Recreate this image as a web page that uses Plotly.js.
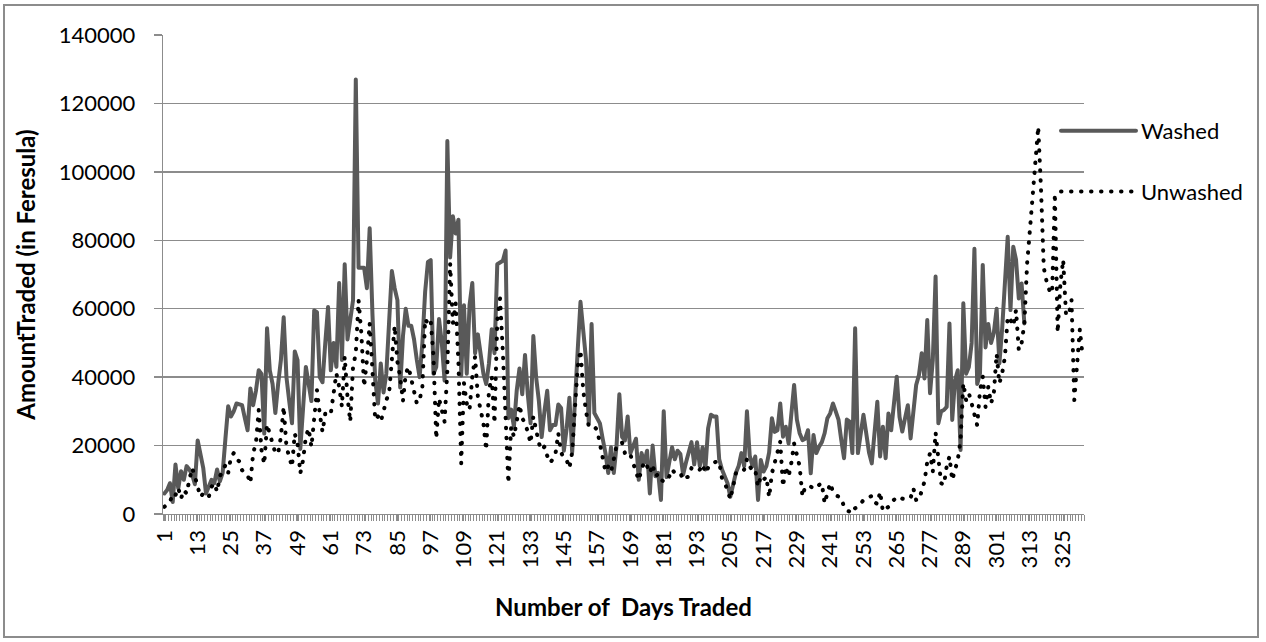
<!DOCTYPE html>
<html>
<head>
<meta charset="utf-8">
<script src="https://cdn.plot.ly/plotly-3.0.1.min.js"></script>
<style>
html,body{margin:0;padding:0;background:#fff;}
#chart{width:1266px;height:642px;}
.js-line{stroke-linecap:round !important;stroke-linejoin:round !important;}
</style>
</head>
<body>
<div id="chart"></div>
<script>
const seriesNames = ['Washed', 'Unwashed'];

const washed = [
 6000, 7000, 9000, 3500, 14500, 7500, 12500, 10000, 14000, 13000,
 11500, 8700, 21500, 17000, 13500, 6000, 8000, 10000, 9000, 13000,
 9500, 12000, 22000, 31500, 28500, 30000, 32300, 32000, 31800, 28000,
 24500, 36700, 31800, 36000, 42000, 40900, 23500, 54300, 42000, 38000,
 29500, 38000, 45000, 57500, 40000, 33000, 26500, 47500, 45000, 19000,
 33000, 43000, 38000, 33000, 59500, 59000, 40000, 38500, 50000, 60500,
 42000, 50000, 43000, 67500, 45000, 73000, 51000, 56000, 62500, 127000,
 72000, 72000, 72000, 66000, 83500, 58500, 39000, 32300, 44000, 35500,
 41000, 56000, 71000, 66000, 62500, 37000, 52000, 60000, 55000, 55000,
 51000, 45000, 40000, 50000, 65000, 73700, 74200, 41000, 43000, 57000,
 50000, 39000, 109000, 75000, 87000, 82000, 86000, 40500, 61000, 41000,
 61000, 67500, 47000, 52500, 47000, 41000, 38000, 44000, 54000, 47000,
 73000, 73500, 74000, 77000, 28000, 30500, 25500, 36000, 42500, 35000,
 46500, 35000, 26500, 52000, 40000, 33000, 22500, 30000, 36000, 24500,
 26000, 26000, 32000, 31000, 18500, 25000, 34000, 18000, 36000, 48000,
 62000, 53000, 45000, 26500, 55500, 29500, 28000, 26500, 22000, 17800,
 12000, 19500, 12000, 20000, 35000, 22500, 21500, 28500, 17800, 20000,
 22000, 10000, 17800, 15000, 18500, 6000, 20000, 11000, 12000, 4100,
 30000, 10800, 15000, 19500, 16000, 18500, 17500, 11500, 15000, 18500,
 21000, 14500, 21000, 14000, 19500, 13000, 25000, 29000, 28500, 28500,
 16000, 13000, 11000, 9000, 5000, 9000, 12000, 14000, 17800, 14000,
 30000, 17000, 14000, 16800, 4100, 15800, 12400, 14000, 18000, 28000,
 24000, 24500, 32300, 22600, 25500, 20600, 28000, 37700, 27600, 23600,
 21600, 22000, 24500, 11900, 23100, 17800, 19700, 21000, 23600, 28000,
 29400, 32300, 30000, 27600, 21600, 16300, 27600, 27000, 17800, 54300,
 17800, 24000, 29000, 23600, 18000, 14800, 25000, 32800, 16800, 25500,
 16300, 29400, 24500, 32000, 40100, 28400, 24100, 28000, 31800, 22100,
 30000, 37700, 40600, 47000, 39600, 56700, 35300, 45000, 69400, 26500,
 30000, 30400, 31300, 55700, 27500, 39100, 42000, 18700, 61600, 41000,
 43000, 50000, 77500, 38000, 41000, 72800, 48700, 55500, 50000, 53000,
 60000, 44000, 54200, 67400, 81000, 59600, 78100, 74300, 63000, 67400,
 55700
];

const unwashed = [
 2100, 3000, 3500, 6000, 5500, 7600, 4500, 7000, 6000, 10000,
 13400, 11000, 7800, 5000, 6000, 5000, 5000, 8000, 9000, 6500,
 11000, 13000, 14300, 12000, 16700, 17800, 16000, 15400, 12800, 12000,
 11300, 9000, 17800, 20700, 30400, 18700, 14600, 26200, 23600, 20700,
 17800, 17700, 22600, 31400, 19600, 16700, 13800, 23500, 20600, 11900,
 15800, 22600, 25000, 19600, 27500, 36200, 29400, 24000, 29400, 30000,
 29400, 34800, 41100, 37200, 31400, 46000, 34300, 27000, 43000, 47000,
 62500, 52800, 37200, 45000, 55700, 42000, 27500, 28500, 27000, 30000,
 33300, 35300, 47000, 55000, 44500, 40000, 33000, 41000, 43000, 39000,
 35300, 32300, 33300, 37200, 57000, 55700, 56700, 46000, 22000, 33800,
 30400, 27000, 42000, 73300, 55700, 61600, 44100, 14800, 38200, 32300,
 30400, 40100, 46000, 34300, 30400, 26500, 18700, 36200, 40100, 26500,
 56700, 63000, 47500, 30400, 9000, 25500, 22600, 27000, 31900, 28000,
 26500, 24000, 20700, 28500, 24000, 20700, 18700, 19700, 17000, 15000,
 16000, 17700, 23600, 18000, 16300, 15800, 13400, 18000, 30900, 43100,
 47900, 36000, 30000, 25500, 25500, 25500, 24600, 20000, 16300, 12400,
 14000, 12400, 16000, 20000, 20700, 20800, 17800, 16800, 17300, 15000,
 13000, 9900, 13000, 15300, 14000, 12000, 14500, 11000, 11700, 10000,
 9500, 9500, 11000, 13000, 12000, 11900, 12000, 10000, 10700, 10900,
 13400, 13000, 12500, 13000, 14500, 12000, 13500, 14000, 15000, 15300,
 15300, 10400, 9000, 7000, 4300, 8000, 11900, 11900, 12000, 13000,
 16000, 14000, 12500, 12800, 8000, 11000, 10000, 10900, 4900, 11900,
 14900, 17800, 21100, 8000, 13900, 10900, 14900, 20600, 16800, 13900,
 5100, 8000, 8000, 8000, 7500, 7500, 8500, 9000, 3100, 6100,
 9000, 6600, 5500, 5100, 4700, 2100, 1000, 700, 200, 1700,
 2100, 3000, 4100, 4500, 5000, 5300, 3500, 2900, 6500, 800,
 1500, 2100, 3500, 4300, 4800, 5100, 4500, 4300, 4500, 4700,
 7500, 4100, 4100, 6500, 9500, 15300, 17700, 12400, 23800, 16300,
 9000, 8500, 13900, 16800, 9900, 12900, 15800, 21600, 38200, 33300,
 35300, 32300, 28400, 25900, 36000, 40100, 31300, 37200, 32300, 35300,
 46800, 38200, 41100, 46000, 57700, 56700, 55000, 59600, 47900, 49900,
 55700, 73300, 83000, 93700, 103500, 113200, 95000, 72000, 68000, 65500,
 64500, 93700, 53000, 67400, 74300, 58600, 58000, 62500, 33300, 45000,
 54000, 46000
];

const xTickLabels = ['1','13','25','37','49','61','73','85','97','109','121','133','145',
  '157','169','181','193','205','217','229','241','253','265','277','289','301','313','325'];
const yTickValues = [0, 20000, 40000, 60000, 80000, 100000, 120000, 140000];

const xTitle = 'Number of \u00a0Days Traded';
const yTitle = 'AmountTraded (in Feresula)';

const nCats = unwashed.length;
const daysW = washed.map((_, i) => i + 1);
const daysU = unwashed.map((_, i) => i + 1);

const W = 1266, H = 642;
const M = {l: 163, r: 182, t: 35, b: 128};
const pw = W - M.l - M.r, ph = H - M.t - M.b;
const px = v => (v - M.l) / pw;
const py = v => (H - M.b - v) / ph;

const axisGray = '#8c8c8c';

const traces = [
  {
    x: daysW, y: washed, name: seriesNames[0], type: 'scatter', mode: 'lines',
    xaxis: 'x', yaxis: 'y',
    line: {color: '#595959', width: 4}, legendgroup: 'a', hoverinfo: 'x+y'
  },
  {
    x: daysU, y: unwashed, name: seriesNames[1], type: 'scatter', mode: 'lines',
    xaxis: 'x2', yaxis: 'y',
    line: {color: '#000000', width: 4, dash: '0.5px,9.5px'}, legendgroup: 'b', hoverinfo: 'x+y'
  }
];

const layout = {
  width: W, height: H,
  margin: M,
  paper_bgcolor: '#ffffff', plot_bgcolor: '#ffffff',
  font: {family: 'Lato, "Open Sans", sans-serif', color: '#000000', size: 22},
  showlegend: true,
  legend: {
    x: px(1056), y: py(110), xanchor: 'left', yanchor: 'top',
    font: {size: 22, color: '#000000'}, bgcolor: 'rgba(0,0,0,0)',
    itemwidth: 75, tracegroupgap: 29, traceorder: 'grouped'
  },
  xaxis: {
    type: 'linear', range: [0.5, nCats + 0.5],
    tickmode: 'array', tickvals: xTickLabels.map(Number), ticktext: xTickLabels,
    tickangle: -90, ticks: 'outside', ticklen: 6, tickcolor: axisGray, tickwidth: 1,
    showgrid: false, zeroline: false,
    showline: true, linecolor: axisGray, linewidth: 1.3,
    tickfont: {size: 22, color: '#000000'},
    title: {text: xTitle, font: {size: 24, weight: 'bold', color: '#000000'}, standoff: 31}
  },
  xaxis2: {
    type: 'linear', range: [0.5, nCats + 0.5], overlaying: 'x', anchor: 'y', side: 'bottom',
    tickmode: 'linear', tick0: 0.5, dtick: 1,
    ticks: 'outside', ticklen: 6, tickcolor: axisGray, tickwidth: 1,
    showticklabels: false, showgrid: false, zeroline: false, showline: false
  },
  yaxis: {
    range: [0, 140000], tickmode: 'array', tickvals: yTickValues,
    ticktext: yTickValues.map(String),
    showgrid: true, gridcolor: axisGray, gridwidth: 1.3, zeroline: false,
    showline: true, linecolor: axisGray, linewidth: 1.3,
    ticks: 'outside', ticklen: 8, tickcolor: axisGray, tickwidth: 1.3,
    ticklabelstandoff: 14,
    tickfont: {size: 22, color: '#000000'},
    title: {text: yTitle, font: {size: 24, weight: 'bold', color: '#000000'}, standoff: 16}
  },
  shapes: [{
    type: 'rect', xref: 'paper', yref: 'paper', layer: 'below',
    x0: px(4), x1: px(1258), y0: py(637), y1: py(5),
    line: {color: '#8c8c8c', width: 2}, fillcolor: 'rgba(0,0,0,0)'
  }]
};

Plotly.newPlot('chart', traces, layout, {displayModeBar: false, staticPlot: true});
</script>
</body>
</html>
